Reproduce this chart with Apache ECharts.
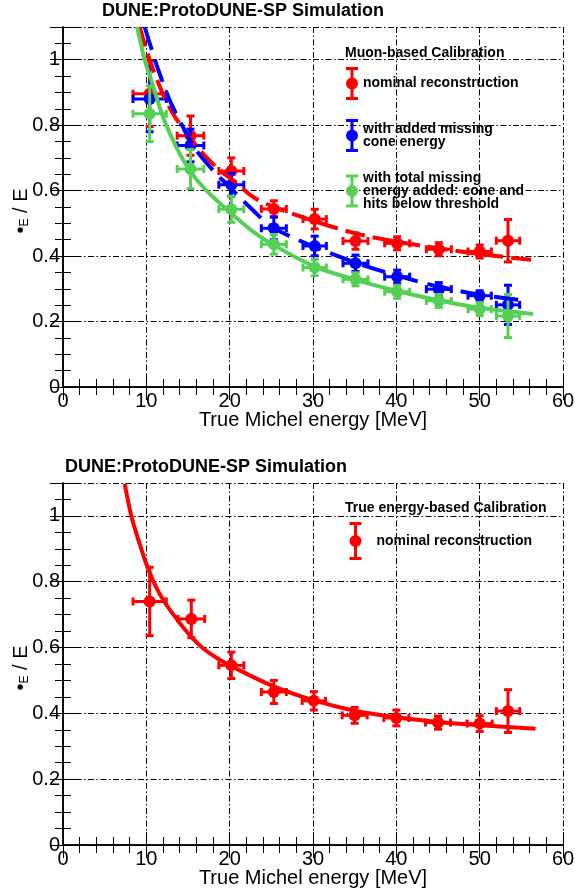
<!DOCTYPE html>
<html><head><meta charset="utf-8">
<script src="https://cdn.jsdelivr.net/npm/echarts@6/dist/echarts.min.js"></script>
<style>html,body{margin:0;padding:0;background:#fff}#c{width:575px;height:892px}</style>
</head><body><div id="c"></div>
<script>
const FONT = 'Liberation Sans, Arial, Helvetica, sans-serif';

// ---- Top panel: muon-based calibration ----
const energy = [10.4, 15.3, 20.2, 25.3, 30.2, 35.1, 40.1, 45.1, 50.0, 53.4];
const energyErr = [2.0, 1.6, 1.5, 1.5, 1.4, 1.5, 1.5, 1.5, 1.4, 1.4];
const muonNominal = [0.896, 0.768, 0.660, 0.544, 0.513, 0.446, 0.439, 0.421, 0.414, 0.447];
const muonNominalErr = [0.10, 0.06, 0.04, 0.025, 0.03, 0.025, 0.02, 0.02, 0.02, 0.065];
const muonCone = [0.880, 0.738, 0.618, 0.485, 0.431, 0.378, 0.337, 0.299, 0.279, 0.251];
const muonConeErr = [0.10, 0.05, 0.035, 0.035, 0.03, 0.025, 0.02, 0.02, 0.015, 0.06];
const muonTotal = [0.835, 0.666, 0.543, 0.436, 0.365, 0.329, 0.291, 0.263, 0.238, 0.217];
const muonTotalErr = [0.085, 0.06, 0.04, 0.03, 0.025, 0.02, 0.02, 0.02, 0.02, 0.066];

// fit curves
const fitNominalE = [9.2, 10.0, 10.8, 12.0, 13.2, 14.8, 16.8, 18.8, 20.4, 22.8, 25.2, 30, 35, 40, 45, 50, 56.4];
const fitNominal  = [1.1, 1.03, 0.97, 0.895, 0.835, 0.776, 0.713, 0.662, 0.632, 0.581, 0.551, 0.508, 0.47, 0.444, 0.424, 0.406, 0.388];
const fitConeE = [9.8, 10.8, 11.6, 12.8, 14.4, 16.0, 18.0, 19.6, 22.8, 25.2, 30, 35, 40, 45, 50, 55.6];
const fitCone  = [1.1, 1.018, 0.957, 0.876, 0.794, 0.723, 0.662, 0.621, 0.54, 0.487, 0.43, 0.381, 0.341, 0.307, 0.282, 0.264];
const fitTotalE = [8.9, 9.8, 10.6, 12.0, 13.6, 15.2, 17.2, 20.0, 22.8, 25.2, 30, 35, 40, 45, 50, 56.4];
const fitTotal  = [1.1, 1.0, 0.937, 0.825, 0.733, 0.662, 0.601, 0.535, 0.475, 0.435, 0.37, 0.328, 0.294, 0.265, 0.242, 0.223];

// ---- Bottom panel: true-energy-based calibration ----
const trueEnergy = [10.4, 15.4, 20.2, 25.3, 30.1, 35.0, 40.0, 45.0, 50.0, 53.4];
const trueEnergyErr = [2.0, 1.6, 1.5, 1.5, 1.4, 1.5, 1.5, 1.5, 1.5, 1.4];
const trueNominal = [0.740, 0.687, 0.546, 0.465, 0.438, 0.394, 0.386, 0.372, 0.369, 0.407];
const trueNominalErr = [0.104, 0.057, 0.04, 0.035, 0.028, 0.024, 0.024, 0.02, 0.024, 0.065];
const fitTrueE = [7.4, 8.2, 9.2, 10.0, 11.2, 12.4, 14.0, 15.2, 16.8, 18.8, 20.4, 25, 30, 35, 40, 45, 50, 56.7];
const fitTrue  = [1.097, 1.0, 0.915, 0.854, 0.782, 0.73, 0.675, 0.638, 0.598, 0.563, 0.541, 0.485, 0.44, 0.408, 0.388, 0.374, 0.364, 0.353];

// tick / axis settings
const xTicks = {min: 0, max: 60, major: 10, minor: 2};
const yTicks = {min: 0, max: 1.1, major: 0.2, minor: 0.05};

const RED = '#ff0000', BLUE = '#0000ff', GREEN = '#55cf55';

function zip4(x, y, ex, ey) { return x.map((v, i) => [v, y[i], ex[i], ey[i]]); }
function zip2(x, y) { return x.map((v, i) => [v, y[i]]); }

function errRender(color) {
  return function (params, api) {
    const x = api.value(0), y = api.value(1), ex = api.value(2), ey = api.value(3);
    const c = api.coord([x, y]);
    const l = api.coord([x - ex, y]), r = api.coord([x + ex, y]);
    const t = api.coord([x, y + ey]), b = api.coord([x, y - ey]);
    const cap = 4;
    const st = {stroke: color, lineWidth: 3, fill: null};
    const ln = (x1, y1, x2, y2) => ({type: 'line', shape: {x1, y1, x2, y2}, style: st});
    return {type: 'group', children: [
      ln(l[0], l[1], r[0], r[1]),
      ln(l[0], l[1] - cap, l[0], l[1] + cap),
      ln(r[0], r[1] - cap, r[0], r[1] + cap),
      ln(t[0], t[1], b[0], b[1]),
      ln(t[0] - cap, t[1], t[0] + cap, t[1]),
      ln(b[0] - cap, b[1], b[0] + cap, b[1]),
      {type: 'circle', shape: {cx: c[0], cy: c[1], r: 6}, style: {fill: color}}
    ]};
  };
}

function errIcon(w, h) {
  const r = w / 2, bw = 3, cy = h / 2;
  return 'path://M0,0H' + w + 'V3H0Z M' + (r - bw / 2) + ',0H' + (r + bw / 2) + 'V' + h + 'H' + (r - bw / 2) + 'Z M0,' + (h - 3) + 'H' + w + 'V' + h + 'H0Z M0,' + cy + 'A' + r + ',' + r + ' 0 1,1 ' + w + ',' + cy + 'A' + r + ',' + r + ' 0 1,1 0,' + cy + 'Z';
}

const grids = [
  {left: 63, width: 500, top: 27, height: 360, containLabel: false, outerBoundsMode: 'none'},
  {left: 63, width: 500, top: 483, height: 362, containLabel: false, outerBoundsMode: 'none'}
];

const black = '#000';
const gridLine = {color: black, width: 1, type: [6, 2.5, 1.5, 2.5]};
const xAxes = [], yAxes = [];
grids.forEach((g, gi) => {
  xAxes.push({gridIndex: gi, type: 'value', position: 'bottom', min: xTicks.min, max: xTicks.max, interval: xTicks.major,
    axisLine: {show: true, lineStyle: {color: black, width: 1.5}},
    axisTick: {show: true, inside: true, length: 13, lineStyle: {color: black, width: 1}},
    axisLabel: {show: true, fontSize: 20, color: black, fontFamily: FONT, margin: 4},
    splitLine: {show: true, lineStyle: gridLine},
    name: 'True Michel energy [MeV]', nameLocation: 'middle', nameGap: 23, nameMoveOverlap: false,
    nameTextStyle: {fontSize: 20, color: black, fontFamily: FONT}});
  xAxes.push({gridIndex: gi, type: 'value', position: 'top', min: xTicks.min, max: xTicks.max, interval: xTicks.major,
    axisLine: {show: true, lineStyle: {color: black, width: 1.5}},
    axisTick: {show: true, inside: true, length: 13, lineStyle: {color: black, width: 1}},
    axisLabel: {show: false}, splitLine: {show: false}});
  ['bottom', 'top'].forEach(p => xAxes.push({gridIndex: gi, type: 'value', position: p, min: xTicks.min, max: xTicks.max, interval: xTicks.minor,
    axisLine: {show: false}, axisTick: {show: true, inside: true, length: 8, lineStyle: {color: black, width: 1}},
    axisLabel: {show: false}, splitLine: {show: false}}));

  yAxes.push({gridIndex: gi, type: 'value', position: 'left', min: yTicks.min, max: yTicks.max, interval: yTicks.major,
    axisLine: {show: true, lineStyle: {color: black, width: 1.5}},
    axisTick: {show: true, inside: true, length: 13, lineStyle: {color: black, width: 1}},
    axisLabel: {show: true, fontSize: 20, color: black, fontFamily: FONT, margin: 3,
      formatter: v => (v > 1.05 ? '' : String(+v.toFixed(1)))},
    splitLine: {show: true, lineStyle: gridLine},
    name: '{b|\u2022}{s|E}{m| / E}', nameLocation: 'middle', nameRotate: 90, nameGap: 32, nameMoveOverlap: false,
    nameTextStyle: {color: black, fontFamily: FONT, padding: [0, 8, 0, 0], rich: {
      b: {fontSize: 20, lineHeight: 20, verticalAlign: 'top', fontFamily: FONT, color: black},
      s: {fontSize: 12, lineHeight: 12, padding: [15, 0, 0, 0], verticalAlign: 'bottom', fontFamily: FONT, color: black},
      m: {fontSize: 20, lineHeight: 20, verticalAlign: 'top', fontFamily: FONT, color: black}
    }}});
  yAxes.push({gridIndex: gi, type: 'value', position: 'right', min: yTicks.min, max: yTicks.max, interval: yTicks.major,
    axisLine: {show: true, lineStyle: {color: black, width: 1.5}},
    axisTick: {show: true, inside: true, length: 13, lineStyle: {color: black, width: 1}},
    axisLabel: {show: false}, splitLine: {show: false}});
  ['left', 'right'].forEach(p => yAxes.push({gridIndex: gi, type: 'value', position: p, min: yTicks.min, max: yTicks.max, interval: yTicks.minor,
    axisLine: {show: false}, axisTick: {show: true, inside: true, length: 8, lineStyle: {color: black, width: 1}},
    axisLabel: {show: false}, splitLine: {show: false}}));
});

function errSeries(name, color, data, gi) {
  return {name, type: 'custom', xAxisIndex: gi * 4, yAxisIndex: gi * 4, itemStyle: {color},
    renderItem: errRender(color), encode: {x: 0, y: 1}, data, z: 3};
}
function fitSeries(name, color, data, gi, dash) {
  return {name, type: 'line', xAxisIndex: gi * 4, yAxisIndex: gi * 4, data, showSymbol: false, symbol: 'none',
    smooth: 0.3, clip: true, lineStyle: {color, width: 4, type: dash}, z: 4, silent: true};
}

const series = [
  errSeries('muonNominal', RED, zip4(energy, muonNominal, energyErr, muonNominalErr), 0),
  fitSeries('fitNominal', RED, zip2(fitNominalE, fitNominal), 0, [20, 8]),
  errSeries('muonCone', BLUE, zip4(energy, muonCone, energyErr, muonConeErr), 0),
  fitSeries('fitCone', BLUE, zip2(fitConeE, fitCone), 0, [24, 10]),
  errSeries('muonTotal', GREEN, zip4(energy, muonTotal, energyErr, muonTotalErr), 0),
  fitSeries('fitTotal', GREEN, zip2(fitTotalE, fitTotal), 0, 'solid'),
  errSeries('trueNominal', RED, zip4(trueEnergy, trueNominal, trueEnergyErr, trueNominalErr), 1),
  fitSeries('fitTrue', RED, zip2(fitTrueE, fitTrue), 1, 'solid')
];

const legendText = {
  muonNominal: 'nominal reconstruction',
  muonCone: 'with added missing\ncone energy',
  muonTotal: 'with total missing\nenergy added: cone and\nhits below threshold',
  trueNominal: 'nominal reconstruction'
};

const titleStyle = {fontSize: 18, fontWeight: 'bold', color: black, fontFamily: FONT};
const legTitleStyle = {fontSize: 14, fontWeight: 'bold', color: black, fontFamily: FONT};

const option = {
  animation: false,
  backgroundColor: '#fff',
  title: [
    {text: 'DUNE:ProtoDUNE-SP Simulation', left: 102, top: 2, padding: 0, textStyle: titleStyle},
    {text: 'Muon-based Calibration', left: 345, top: 46, padding: 0, textStyle: legTitleStyle},
    {text: 'DUNE:ProtoDUNE-SP Simulation', left: 65, top: 458, padding: 0, textStyle: titleStyle},
    {text: 'True energy-based Calibration', left: 345, top: 501, padding: 0, textStyle: legTitleStyle}
  ],
  legend: [
    {orient: 'vertical', left: 346, top: 67, padding: 0, itemWidth: 12, itemHeight: 33, itemGap: 19,
      selectedMode: false, itemStyle: {borderWidth: 0},
      formatter: n => legendText[n],
      textStyle: {fontSize: 14, fontWeight: 'bold', lineHeight: 13, color: black, fontFamily: FONT},
      data: [
        {name: 'muonNominal', icon: errIcon(12, 33), itemStyle: {color: RED}},
        {name: 'muonCone', icon: errIcon(12, 33), itemStyle: {color: BLUE}},
        {name: 'muonTotal', icon: errIcon(12, 33), itemStyle: {color: GREEN}}
      ]},
    {orient: 'vertical', left: 349.5, top: 522, padding: 0, itemWidth: 12, itemHeight: 38,
      selectedMode: false, itemStyle: {borderWidth: 0},
      formatter: n => legendText[n],
      textStyle: {fontSize: 14, fontWeight: 'bold', lineHeight: 15, color: black, fontFamily: FONT, padding: [0, 0, 0, 10]},
      data: [{name: 'trueNominal', icon: errIcon(12, 38), itemStyle: {color: RED}}]}
  ],
  grid: grids,
  xAxis: xAxes,
  yAxis: yAxes,
  series
};

const chart = echarts.init(document.getElementById('c'), null, {renderer: 'canvas'});
chart.setOption(option);
</script>
</body></html>
